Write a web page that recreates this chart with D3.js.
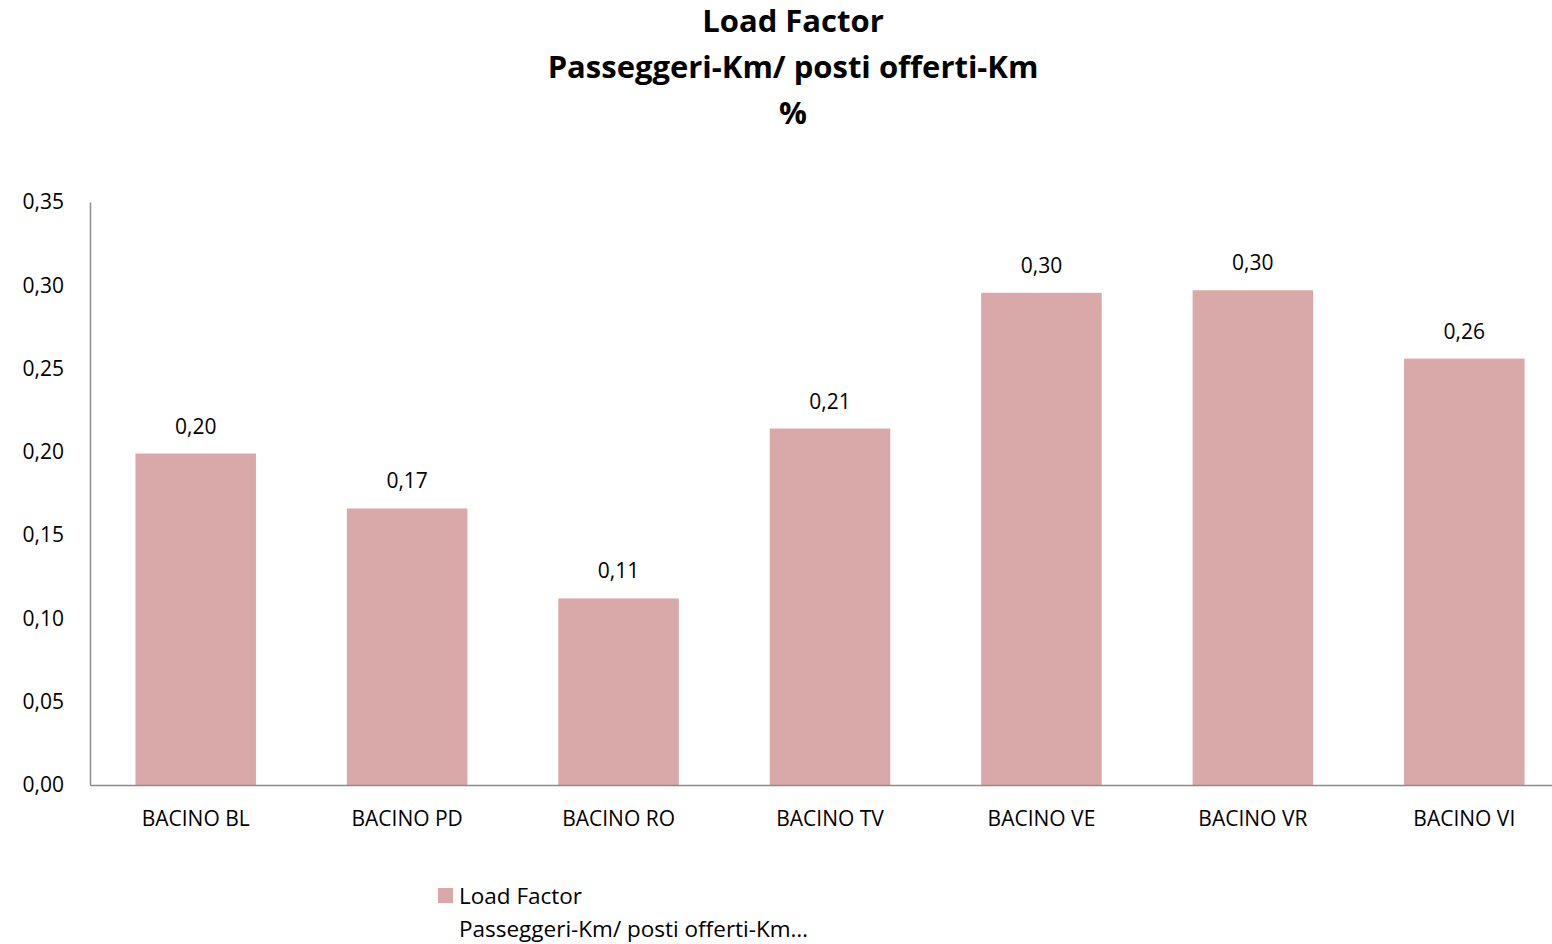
<!DOCTYPE html>
<html>
<head>
<meta charset="utf-8">
<script src="https://cdn.jsdelivr.net/npm/d3@7"></script>
<style>
  body { margin: 0; background: #fff; }
  svg { display: block; font-family: "Open Sans", "Noto Sans", sans-serif; }
</style>
</head>
<body>
<div id="chart"></div>
<script>
// data
var categories = ["BACINO BL", "BACINO PD", "BACINO RO", "BACINO TV", "BACINO VE", "BACINO VR", "BACINO VI"];
var loadFactor = [0.199, 0.166, 0.112, 0.214, 0.2955, 0.297, 0.256];
var yTicks = [0, 0.05, 0.10, 0.15, 0.20, 0.25, 0.30, 0.35];
var titleLines = ["Load Factor", "Passeggeri-Km/ posti offerti-Km", "%"];
var legendLines = ["Load Factor", "Passeggeri-Km/ posti offerti-Km…"];

var W = 1552, H = 944;
var margin = { top: 202, right: -18, bottom: 159, left: 90 },
  width = W - margin.left - margin.right,
  height = H - margin.top - margin.bottom;

var fmt = function(d) { return d.toFixed(2).replace(".", ","); };

var svg = d3.select("#chart").append("svg")
  .attr("width", W)
  .attr("height", H);

// title
svg.append("g").selectAll("text")
  .data(titleLines)
  .enter().append("text")
  .attr("x", 793)
  .attr("y", function(d, i) { return 32 + i * 46; })
  .attr("text-anchor", "middle")
  .style("font-size", "31px")
  .style("font-weight", "bold")
  .text(function(d) { return d; });

var g = svg.append("g")
  .attr("transform", "translate(" + margin.left + "," + margin.top + ")");

var x = d3.scaleBand().domain(categories).range([0, width]).paddingInner(0.43).paddingOuter(0.215);
var y = d3.scaleLinear().domain([0, 0.35]).range([height, 0]);

// bars
g.selectAll(".bar")
  .data(loadFactor)
  .enter().append("rect")
  .attr("class", "bar")
  .attr("x", function(d, i) { return x(categories[i]); })
  .attr("width", x.bandwidth())
  .attr("y", function(d) { return y(d); })
  .attr("height", function(d) { return height - y(d); })
  .attr("fill", "#d9a9a9");

// value labels
g.selectAll(".lbl")
  .data(loadFactor)
  .enter().append("text")
  .attr("class", "lbl")
  .attr("x", function(d, i) { return x(categories[i]) + x.bandwidth() / 2; })
  .attr("y", function(d) { return y(d) - 20; })
  .attr("text-anchor", "middle")
  .style("font-size", "21px")
  .text(function(d) { return fmt(d); });

// y axis
var yAxis = g.append("g")
  .call(d3.axisLeft(y).tickValues(yTicks).tickSize(0).tickPadding(26).tickFormat(fmt))
  .attr("font-family", null)
  .attr("font-size", 21);
yAxis.selectAll("text").attr("fill", "#000");
yAxis.select(".domain").attr("stroke", "#8c8c8c").attr("stroke-width", 1.5);

// x axis
var xAxis = g.append("g")
  .attr("transform", "translate(0," + height + ")")
  .call(d3.axisBottom(x).tickSize(0).tickPadding(26))
  .attr("font-family", null)
  .attr("font-size", 21);
xAxis.selectAll("text").attr("fill", "#000");
xAxis.select(".domain").attr("stroke", "#8c8c8c").attr("stroke-width", 1.5);

// legend
var legend = svg.append("g").attr("transform", "translate(438,888)");
legend.append("rect")
  .attr("width", 15).attr("height", 15)
  .attr("fill", "#d9a9a9");
legend.selectAll("text")
  .data(legendLines)
  .enter().append("text")
  .attr("x", 21)
  .attr("y", function(d, i) { return 16 + i * 33; })
  .style("font-size", "22.5px")
  .text(function(d) { return d; });
</script>
</body>
</html>
